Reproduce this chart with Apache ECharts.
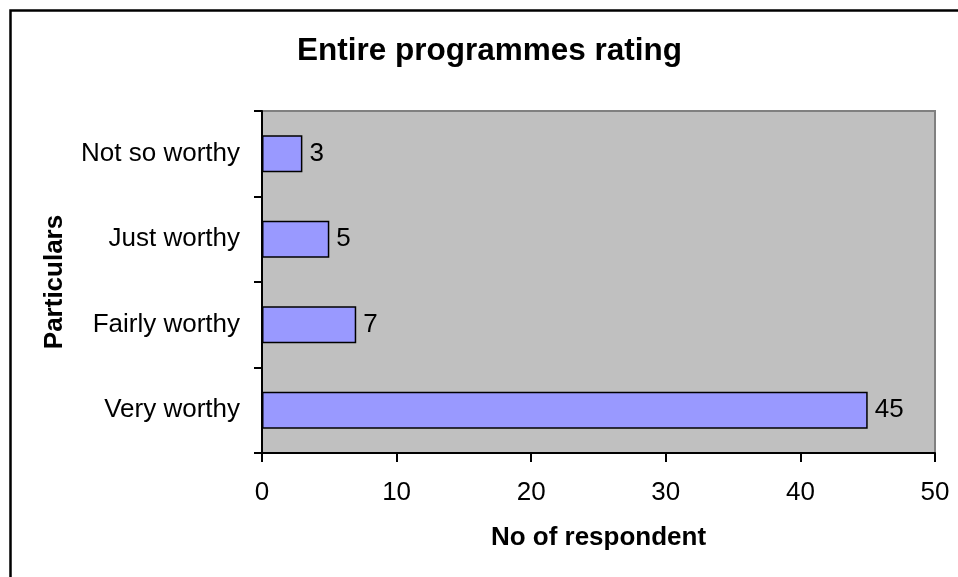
<!DOCTYPE html>
<html>
<head>
<meta charset="utf-8">
<style>
  html, body { margin: 0; padding: 0; background: #ffffff; }
  #chart { width: 958px; height: 577px; }
</style>
<script src="https://cdn.jsdelivr.net/npm/echarts@6/dist/echarts.min.js"></script>
</head>
<body>
<div id="chart"></div>
<script>
// Rating categories, listed bottom to top on the vertical axis
const categories = ['Very worthy', 'Fairly worthy', 'Just worthy', 'Not so worthy'];
// Number of respondents for each rating
const respondents = [45, 7, 5, 3];
// Horizontal value axis range
const xMin = 0;
const xMax = 50;
const xStep = 10;

const FONT = '"Liberation Sans", Arial, sans-serif';

const chart = echarts.init(document.getElementById('chart'), null, { renderer: 'canvas' });

chart.setOption({
  backgroundColor: '#ffffff',
  animation: false,
  title: {
    text: 'Entire programmes rating',
    left: 297,
    top: 35,
    padding: 0,
    textStyle: { fontFamily: FONT, fontSize: 31.5, fontWeight: 'bold', color: '#000000' }
  },
  graphic: [{
    type: 'rect',
    shape: { x: 10.5, y: 10.5, width: 1000, height: 700 },
    style: { fill: 'none', stroke: '#000000', lineWidth: 2.5 },
    silent: true,
    z: 100
  }],
  grid: {
    left: 262,
    top: 111,
    right: 23,
    bottom: 124,
    show: true,
    backgroundColor: '#c0c0c0',
    borderColor: '#808080',
    borderWidth: 2
  },
  xAxis: {
    type: 'value',
    min: xMin,
    max: xMax,
    interval: xStep,
    name: 'No of respondent',
    nameLocation: 'middle',
    nameGap: 72,
    nameTextStyle: { fontFamily: FONT, fontSize: 26, fontWeight: 'bold', color: '#000000' },
    axisLine: { show: true, onZero: false, lineStyle: { color: '#000000', width: 2 } },
    axisTick: { show: true, length: 9, lineStyle: { color: '#000000', width: 2 } },
    axisLabel: { margin: 27, fontFamily: FONT, fontSize: 26, color: '#000000' },
    splitLine: { show: false }
  },
  yAxis: {
    type: 'category',
    data: categories,
    name: 'Particulars',
    nameLocation: 'middle',
    nameGap: 194,
    nameRotate: 90,
    nameTextStyle: { fontFamily: FONT, fontSize: 26, fontWeight: 'bold', color: '#000000' },
    axisLine: { show: true, lineStyle: { color: '#000000', width: 2 } },
    axisTick: { show: true, length: 8, lineStyle: { color: '#000000', width: 2 } },
    axisLabel: { margin: 22, fontFamily: FONT, fontSize: 26, color: '#000000' },
    splitLine: { show: false }
  },
  series: [{
    type: 'bar',
    data: respondents,
    barWidth: '43%',
    itemStyle: { color: '#9999ff', borderColor: '#000000', borderWidth: 1.5 },
    label: {
      show: true,
      position: 'right',
      distance: 7,
      fontFamily: FONT,
      fontSize: 26,
      color: '#000000'
    }
  }]
});
</script>
</body>
</html>
